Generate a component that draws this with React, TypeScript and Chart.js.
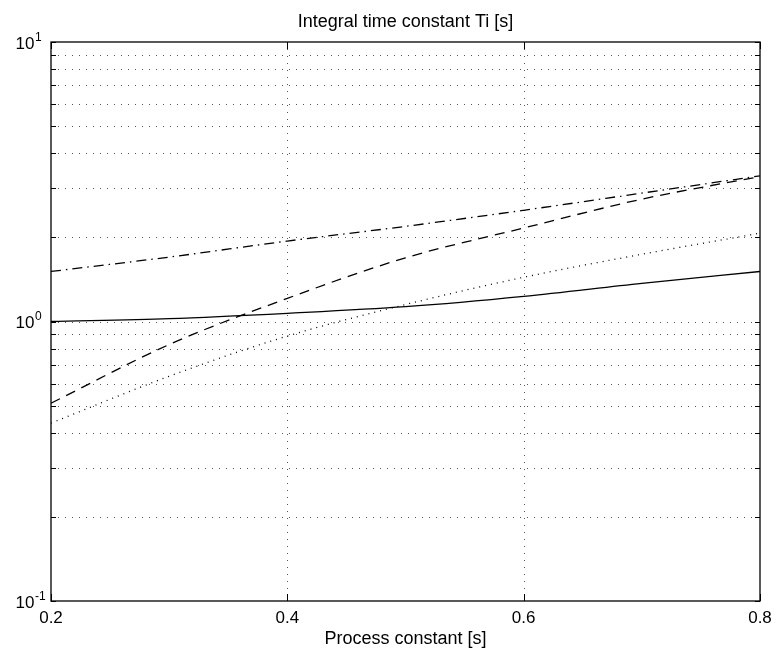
import React, { useEffect, useRef } from "react";
import { Chart, registerables } from "chart.js";

Chart.register(...registerables);

const xValues = [0.2, 0.3, 0.4, 0.5, 0.6, 0.7, 0.8];
const solidSeries = [1.0, 1.024, 1.07, 1.13, 1.23, 1.37, 1.51];
const dashDotSeries = [1.51, 1.7, 1.94, 2.19, 2.5, 2.88, 3.32];
const dashedSeries = [0.51, 0.827, 1.21, 1.69, 2.16, 2.74, 3.3];
const dottedSeries = [0.433, 0.637, 0.887, 1.15, 1.44, 1.74, 2.07];

const xTicks = [0.2, 0.4, 0.6, 0.8];
const xTickLabels = ["0.2", "0.4", "0.6", "0.8"];
const yMajorTicks = [0.1, 1, 10];
const yExponents = ["-1", "0", "1"];
const yMinorTicks = [0.2, 0.3, 0.4, 0.5, 0.6, 0.7, 0.8, 0.9, 2, 3, 4, 5, 6, 7, 8, 9];

const titleText = "Integral time constant Ti [s]";
const xTitleText = "Process constant [s]";

const FONT = "Liberation Sans, Arial, Helvetica, sans-serif";

const overlay = {
  id: "matlabOverlay",
  beforeDatasetsDraw(chart: any) {
    const { ctx, chartArea: a, scales } = chart;
    const xs = scales.x;
    const ys = scales.y;
    ctx.save();
    ctx.strokeStyle = "#555";
    ctx.lineWidth = 1;
    ctx.setLineDash([1, 6]);
    [...yMinorTicks, 1].forEach((v) => {
      const y = Math.round(ys.getPixelForValue(v)) + 0.5;
      ctx.beginPath();
      ctx.moveTo(a.left, y);
      ctx.lineTo(a.right, y);
      ctx.stroke();
    });
    xTicks.slice(1, -1).forEach((v) => {
      const x = Math.round(xs.getPixelForValue(v)) + 0.5;
      ctx.beginPath();
      ctx.moveTo(x, a.top);
      ctx.lineTo(x, a.bottom);
      ctx.stroke();
    });
    ctx.restore();
  },
  afterDatasetsDraw(chart: any) {
    const { ctx, chartArea: a, scales } = chart;
    const xs = scales.x;
    const ys = scales.y;
    ctx.save();
    ctx.setLineDash([]);
    ctx.strokeStyle = "#000";
    ctx.lineWidth = 1.3;
    ctx.strokeRect(a.left, a.top, a.right - a.left, a.bottom - a.top);
    ctx.lineWidth = 1;
    const tl = 5;
    [...yMinorTicks, ...yMajorTicks].forEach((v) => {
      const y = Math.round(ys.getPixelForValue(v)) + 0.5;
      ctx.beginPath();
      ctx.moveTo(a.left, y);
      ctx.lineTo(a.left + tl, y);
      ctx.moveTo(a.right, y);
      ctx.lineTo(a.right - tl, y);
      ctx.stroke();
    });
    xTicks.forEach((v) => {
      const x = Math.round(xs.getPixelForValue(v)) + 0.5;
      ctx.beginPath();
      ctx.moveTo(x, a.bottom);
      ctx.lineTo(x, a.bottom - tl - 2);
      ctx.moveTo(x, a.top);
      ctx.lineTo(x, a.top + tl + 2);
      ctx.stroke();
    });

    ctx.fillStyle = "#000";
    // x tick labels
    ctx.font = `17px ${FONT}`;
    ctx.textAlign = "center";
    ctx.textBaseline = "alphabetic";
    xTicks.forEach((v, i) => {
      ctx.fillText(xTickLabels[i], xs.getPixelForValue(v), a.bottom + 22);
    });
    // y tick labels with superscript
    yMajorTicks.forEach((v, i) => {
      const y = ys.getPixelForValue(v);
      ctx.font = `17px ${FONT}`;
      ctx.textAlign = "right";
      ctx.fillText("10", a.left - 16.5, y + 6.5);
      ctx.font = `12px ${FONT}`;
      ctx.textAlign = "left";
      ctx.fillText(yExponents[i], a.left - 16, y - 1.5);
    });
    // titles
    ctx.font = `18px ${FONT}`;
    ctx.textAlign = "center";
    const cx = (a.left + a.right) / 2;
    ctx.fillText(titleText, cx, a.top - 15);
    ctx.fillText(xTitleText, cx, a.bottom + 42.5);
    ctx.restore();
  },
};

export default function App() {
  const ref = useRef<HTMLCanvasElement | null>(null);
  useEffect(() => {
    if (!ref.current) return;
    const mk = (vals: number[]) => xValues.map((x, i) => ({ x, y: vals[i] }));
    const base = {
      borderColor: "#000",
      borderWidth: 1.3,
      pointRadius: 0,
      fill: false,
      cubicInterpolationMode: "monotone" as const,
    };
    const chart = new Chart(ref.current, {
      type: "line",
      data: {
        datasets: [
          { ...base, label: "solid", data: mk(solidSeries) },
          { ...base, label: "dash-dot", data: mk(dashDotSeries), borderDash: [10, 5, 1.5, 5] },
          { ...base, label: "dashed", data: mk(dashedSeries), borderDash: [10, 7] },
          { ...base, label: "dotted", data: mk(dottedSeries), borderDash: [1, 5] },
        ],
      },
      options: {
        animation: false,
        responsive: false,
        maintainAspectRatio: false,
        layout: { padding: { left: 51, right: 19, top: 42, bottom: 52 } },
        plugins: { legend: { display: false }, tooltip: { enabled: false }, title: { display: false } },
        scales: {
          x: {
            type: "linear",
            min: 0.2,
            max: 0.8,
            ticks: { display: false },
            grid: { display: false, drawTicks: false },
            border: { display: false },
          },
          y: {
            type: "logarithmic",
            min: 0.1,
            max: 10,
            ticks: { display: false },
            grid: { display: false, drawTicks: false },
            border: { display: false },
          },
        },
      },
      plugins: [overlay],
    });
    return () => chart.destroy();
  }, []);
  return (
    <div style={{ position: "fixed", left: 0, top: 0, width: 779, height: 653, background: "#fff" }}>
      <canvas ref={ref} width={779} height={653} style={{ display: "block" }} />
    </div>
  );
}
